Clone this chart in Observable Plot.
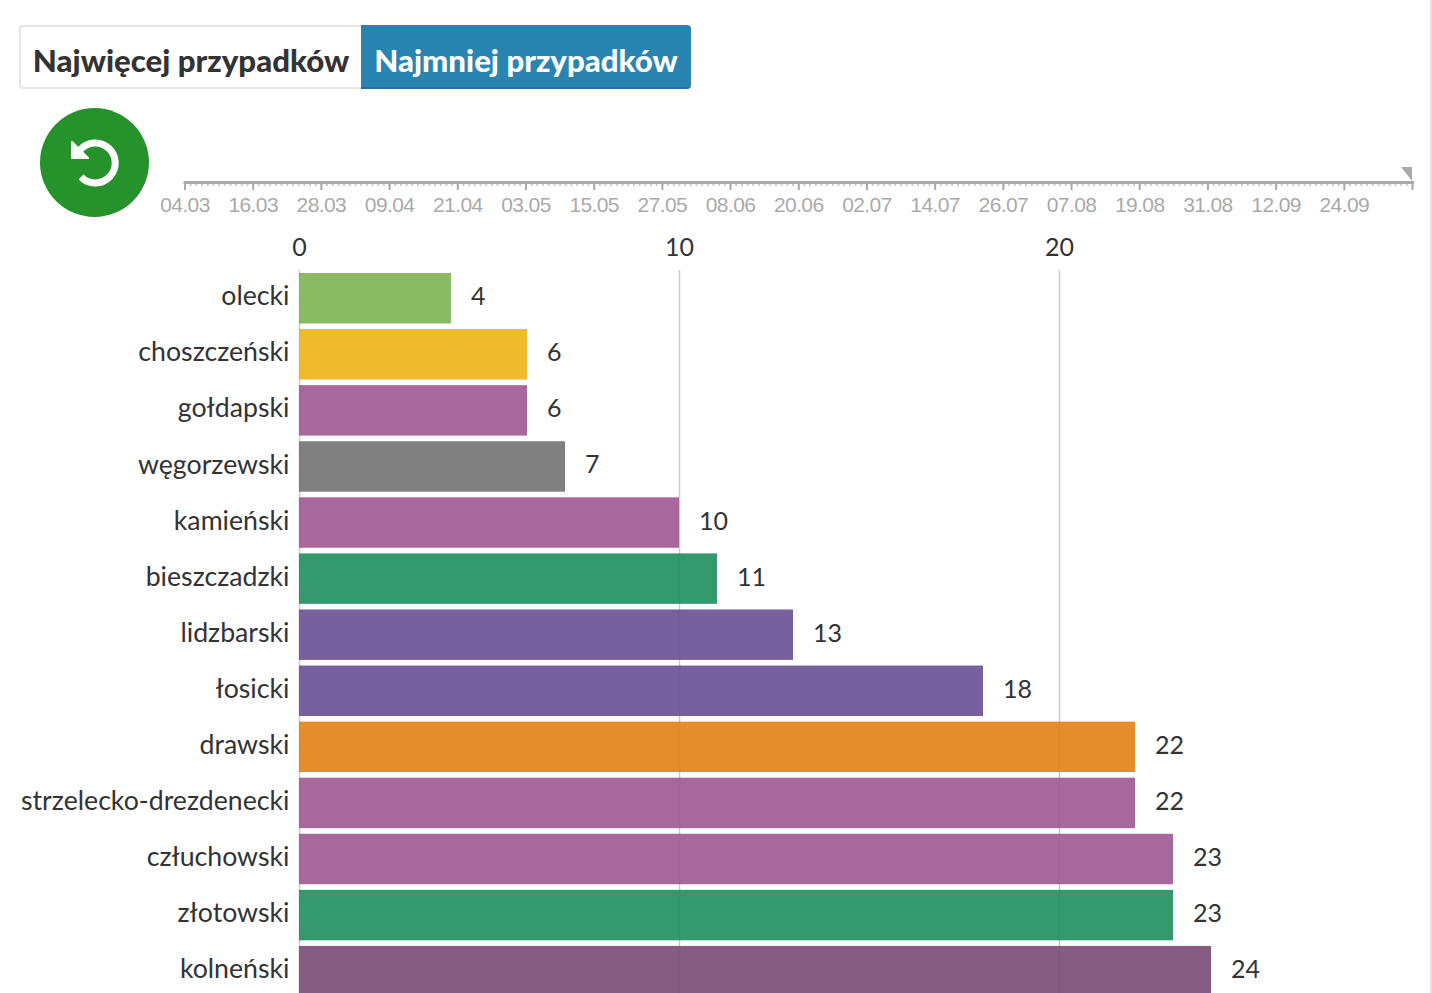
<!DOCTYPE html>
<html><head><meta charset="utf-8">
<script src="https://cdn.jsdelivr.net/npm/d3@7"></script>
<script src="https://cdn.jsdelivr.net/npm/@observablehq/plot@0.6"></script>
<style>
html,body{margin:0;padding:0;background:#fff;overflow:hidden;width:1432px;height:993px}
#page{position:relative;width:1432px;height:993px;overflow:hidden;font-family:Lato,sans-serif;color:#333}
#page>*{position:absolute}
.btn{top:25px;height:64px;box-sizing:border-box;font:900 31.2px/64px Lato,sans-serif;text-align:center;white-space:nowrap}
#b1{left:19px;width:342px;background:#fff;color:#333;border:2px solid #e6e6e6;border-right:none;border-radius:4px 0 0 4px;line-height:66px}
#b2{left:361px;width:330px;background:#2a84b2;color:#fff;border-bottom:2px solid #24739c;border-radius:0 4px 4px 0;line-height:70px}
#edge{left:1430px;top:0;width:2px;height:993px;background:#e4e4e4}
#handle{left:1401px;top:167px;width:11px;height:14px;background:#aaa;clip-path:polygon(0 0,100% 0,100% 100%)}
svg{overflow:hidden}
</style></head><body>
<div id="page">
<div class="btn" id="b1">Najwięcej przypadków</div>
<div class="btn" id="b2">Najmniej przypadków</div>
<svg id="reset" style="left:40px;top:108px" width="110" height="110" viewBox="0 0 110 110">
<circle cx="54.5" cy="54.5" r="54.5" fill="#26922b"/>
<path d="M40 42 A20 20 0 1 1 41 69" fill="none" stroke="#fff" stroke-width="7"/>
<path d="M32 34 L32 50 L48 50 Z" fill="#fff" stroke="#fff" stroke-width="2" stroke-linejoin="round"/>
</svg>
<div id="timeline"></div>
<div id="handle"></div>
<div id="chart"></div>
<div id="edge"></div>
</div>
<script>
const districts = ["olecki","choszczeński","gołdapski","węgorzewski","kamieński","bieszczadzki","lidzbarski","łosicki","drawski","strzelecko-drezdenecki","człuchowski","złotowski","kolneński"];
const cases = [4,6,6,7,10,11,13,18,22,22,23,23,24];
const barColors = ["#7eb353","#edb217","#9f5894","#727272","#9f5894","#1f8e5e","#675094","#675094","#e28113","#9f5894","#9f5894","#1f8e5e","#7a4a74"];
const xTicks = [0,10,20];
const timelineStart = "2020-03-04";
const timelineEnd = "2020-10-06";
const timelineLabels = ["2020-03-04","2020-03-16","2020-03-28","2020-04-09","2020-04-21","2020-05-03","2020-05-15","2020-05-27","2020-06-08","2020-06-20","2020-07-02","2020-07-14","2020-07-26","2020-08-07","2020-08-19","2020-08-31","2020-09-12","2020-09-24"];

const rows = districts.map((d,i)=>({district:d,value:cases[i],color:barColors[i]}));
const start = new Date(timelineStart), end = new Date(timelineEnd);
const majors = timelineLabels.map(d=>new Date(d)).concat([end]);
const days = d3.utcDay.range(start, d3.utcDay.offset(end,1));
const fmt = d3.utcFormat("%d.%m");

const tl = Plot.plot({
  width:1432,height:70,marginTop:32,marginBottom:38,marginLeft:184.5,marginRight:20,
  style:{background:"transparent",fontFamily:"'Liberation Sans',Arial,sans-serif",fontSize:"21px",letterSpacing:"-0.6px",overflow:"hidden"},
  x:{type:"utc",domain:[start,end]},
  marks:[
    Plot.axisX({anchor:"bottom",ticks:days,tickSize:4,tickFormat:()=>"",stroke:"#ccc",strokeWidth:2,label:null}),
    Plot.axisX({anchor:"bottom",ticks:majors,tickSize:8,tickPadding:7,strokeWidth:2,stroke:"#aaa",fill:"#aaa",
      tickFormat:d=>+d===+end?"":fmt(d),label:null}),
    Plot.frame({anchor:"top",stroke:"#aaa",strokeWidth:3})
  ]
});
const tw=document.getElementById("timeline");tw.style.cssText="left:0;top:150px";tw.append(tl);

const chart = Plot.plot({
  width:1432,height:775,marginTop:40,marginBottom:0,marginLeft:299,marginRight:33,
  style:{background:"transparent",fontFamily:"Lato,sans-serif",fontSize:"26.7px",color:"#333",overflow:"hidden"},
  x:{domain:[0,29],range:[299,1401]},
  y:{domain:districts,range:[37.4,772],padding:0.1,round:false},
  marks:[
    Plot.ruleX(xTicks,{stroke:"#ccc",strokeWidth:1.5}),
    Plot.barX(rows,{x:"value",y:"district",fill:"color",fillOpacity:0.9}),
    Plot.text(rows,{x:"value",y:"district",text:d=>String(d.value),dx:19.5,dy:-1.5,textAnchor:"start",fill:"#333",fontSize:25}),
    Plot.axisY({anchor:"left",tickSize:0,tickPadding:10,dy:-2,label:null,fill:"#333",fontSize:26.7}),
    Plot.axisX({anchor:"top",ticks:xTicks,tickSize:0,tickPadding:15,label:null,fill:"#333",fontSize:25})
  ]
});
const cw=document.getElementById("chart");cw.style.cssText="left:0;top:230px";cw.append(chart);
</script>
</body></html>
